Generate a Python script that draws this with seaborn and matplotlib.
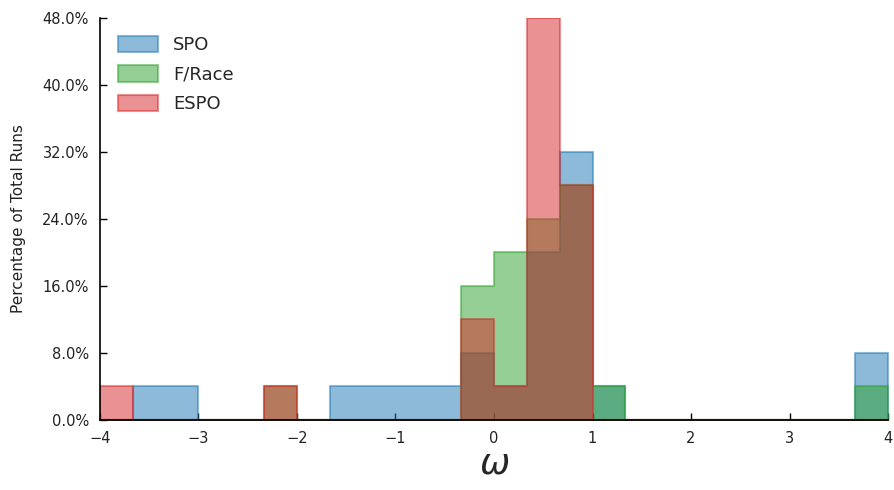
import numpy as np
import pandas as pd
import matplotlib
matplotlib.use("Agg")
import matplotlib.pyplot as plt
import seaborn as sns
from matplotlib.colors import to_rgba
from matplotlib.ticker import FuncFormatter

# Histogram bins over omega in [-4, 4], 24 bins of width 1/3
bin_edges = list(np.linspace(-4, 4, 25))
bin_centers = [(a + b) / 2 for a, b in zip(bin_edges[:-1], bin_edges[1:])]

# Percentage of total runs per bin
spo = [0, 4, 4, 0, 0, 0, 0, 4, 4, 4, 4, 8, 4, 20, 32, 4, 0, 0, 0, 0, 0, 0, 0, 8]
frace = [0, 0, 0, 0, 0, 4, 0, 0, 0, 0, 0, 16, 20, 24, 28, 4, 0, 0, 0, 0, 0, 0, 0, 4]
espo = [4, 0, 0, 0, 0, 4, 0, 0, 0, 0, 0, 12, 4, 48, 28, 0, 0, 0, 0, 0, 0, 0, 0, 0]

series_names = ["SPO", "F/Race", "ESPO"]
series_values = [spo, frace, espo]
series_colors = ["#1f77b4", "#2ca02c", "#d62728"]

y_ticks = [0, 8, 16, 24, 32, 40, 48]
x_ticks = [-4, -3, -2, -1, 0, 1, 2, 3, 4]

sns.set_style("white")
plt.rcParams["font.family"] = ["DejaVu Sans"]

fig = plt.figure(figsize=(8.95, 4.9), dpi=100)
ax = fig.add_axes([0.1117, 0.1429, 0.8805, 0.8204])

for name, vals, col in zip(series_names, series_values, series_colors):
    df = pd.DataFrame({"omega": bin_centers, "pct": vals})
    sns.histplot(data=df, x="omega", weights="pct", bins=bin_edges,
                 element="step", fill=True, alpha=0.5, color=col,
                 edgecolor=to_rgba(col, 0.5), linewidth=1.5, label=name, ax=ax)

ax.set_xlim(-4, 4)
ax.set_ylim(0, 48)
ax.set_xticks(x_ticks)
ax.set_xticklabels(["\u22124", "\u22123", "\u22122", "\u22121", "0", "1", "2", "3", "4"])
ax.set_yticks(y_ticks)
ax.yaxis.set_major_formatter(FuncFormatter(lambda v, p: f"{v:.1f}%"))
ax.tick_params(axis="both", direction="in", length=5, width=1, labelsize=10.5,
               colors="black", labelcolor="#222222", bottom=True, left=True)
ax.tick_params(axis="x", pad=8)
ax.tick_params(axis="y", pad=8)

for side in ["top", "right"]:
    ax.spines[side].set_visible(False)
for side in ["left", "bottom"]:
    ax.spines[side].set_color("black")
    ax.spines[side].set_linewidth(1.2)

ax.set_ylabel("Percentage of Total Runs", fontsize=11, color="#222222", labelpad=12)
ax.set_xlabel(r"$\omega$", fontsize=26, labelpad=0)

ax.legend(loc="upper left", frameon=False, fontsize=13, bbox_to_anchor=(0.0, 1.0),
          handlelength=2.2, handleheight=1.0, borderaxespad=0.6, labelspacing=0.62,
          handletextpad=0.85)

fig.savefig("out.png", dpi=100)
